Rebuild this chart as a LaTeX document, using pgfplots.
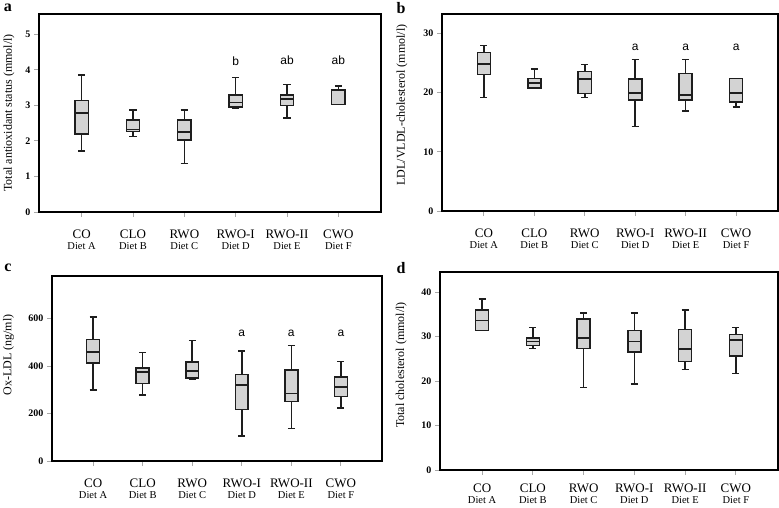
\documentclass[border=0pt]{standalone}
\usepackage{fontspec}
\setmainfont{Liberation Serif}
\newfontfamily\sansf{Liberation Sans}
\usepackage{pgfplots}
\pgfplotsset{compat=1.18}
\definecolor{boxfill}{HTML}{D3D3D3}
\definecolor{boxedge}{HTML}{1E1E1E}
\definecolor{tickgray}{HTML}{A8A8A8}

\pgfplotsset{
  panel/.style={
    scale only axis,
    xmin=-0.83, xmax=5.83,
    ymin=0,
    xtick={0,...,5},
    xticklabels={
      {CO\\[-2pt]{\fontsize{10.5}{10}\selectfont Diet A}},
      {CLO\\[-2pt]{\fontsize{10.5}{10}\selectfont Diet B}},
      {RWO\\[-2pt]{\fontsize{10.5}{10}\selectfont Diet C}},
      {RWO-I\\[-2pt]{\fontsize{10.5}{10}\selectfont Diet D}},
      {RWO-II\\[-2pt]{\fontsize{10.5}{10}\selectfont Diet E}},
      {CWO\\[-2pt]{\fontsize{10.5}{10}\selectfont Diet F}}},
    tick align=outside,
    xtick pos=bottom, ytick pos=left,
    major tick length=5pt,
    major tick style={tickgray, line width=0.9pt},
    axis line style={black, line width=1.3pt},
    yticklabel style={font=\bfseries\fontsize{10}{10}\selectfont},
    /pgf/number format/assume math mode=true,
    xticklabel style={align=center, font=\fontsize{13}{13}\selectfont, yshift=-9pt},
    ylabel style={font=\fontsize{12}{12}\selectfont, anchor=center},
    clip=false,
  },
  bxline/.style={draw=boxedge, line width=1.5pt, solid},
}
\tikzset{annot/.style={font=\sansf\fontsize{12}{12}\selectfont, text=black}}

% #1 position, #2 lower whisker, #3 lower quartile, #4 median, #5 upper quartile, #6 upper whisker
\newcommand\bx[6]{%
  \pgfmathsetmacro\bxL{#1-0.13}%
  \pgfmathsetmacro\bxR{#1+0.13}%
  \pgfmathsetmacro\bxCL{#1-0.07}%
  \pgfmathsetmacro\bxCR{#1+0.07}%
  \addplot[bxline] coordinates {(#1,#2) (#1,#3)};
  \addplot[bxline] coordinates {(#1,#5) (#1,#6)};
  \addplot[bxline] coordinates {(\bxCL,#2) (\bxCR,#2)};
  \addplot[bxline] coordinates {(\bxCL,#6) (\bxCR,#6)};
  \addplot[bxline, fill=boxfill] coordinates {(\bxL,#3) (\bxR,#3) (\bxR,#5) (\bxL,#5)} -- cycle;
  \addplot[bxline, line width=1.8pt] coordinates {(\bxL,#4) (\bxR,#4)};
}

\begin{document}
\begin{tikzpicture}
\path[use as bounding box] (0,0) rectangle (779pt,507pt);

% ---------------- panel a ----------------
\begin{axis}[panel, at={(39pt,295pt)}, anchor=south west,
  width=342pt, height=198pt, ymax=5.57, ytick={0,1,2,3,4,5},
  ylabel={Total antioxidant status (mmol/l)},
  ylabel style={at={(axis description cs:-0.088,0.5)}}]
\bx{0}{1.72}{2.20}{2.78}{3.14}{3.86}
\bx{1}{2.12}{2.27}{2.32}{2.59}{2.87}
\bx{2}{1.36}{2.03}{2.24}{2.59}{2.87}
\bx{3}{2.91}{2.95}{3.08}{3.29}{3.79}
\bx{4}{2.64}{3.00}{3.17}{3.29}{3.58}
\bx{5}{3.03}{3.03}{3.42}{3.44}{3.55}
\node[annot] at (axis cs:3,4.23) {b};
\node[annot] at (axis cs:4,4.26) {ab};
\node[annot] at (axis cs:5,4.26) {ab};
\end{axis}

% ---------------- panel b ----------------
\begin{axis}[panel, at={(442pt,296pt)}, anchor=south west,
  width=336pt, height=197pt, ymax=33.3, ytick={0,10,20,30},
  ylabel={LDL/VLDL-cholesterol (mmol/l)},
  ylabel style={at={(axis description cs:-0.119,0.538)}}]
\bx{0}{19.2}{23.1}{24.9}{26.8}{28.0}
\bx{1}{20.8}{20.8}{21.7}{22.4}{24.0}
\bx{2}{19.2}{19.9}{22.3}{23.6}{24.8}
\bx{3}{14.3}{18.8}{20.0}{22.3}{25.6}
\bx{4}{16.9}{18.8}{19.6}{23.2}{25.6}
\bx{5}{17.6}{18.4}{20.0}{22.4}{22.4}
\node[annot] at (axis cs:3,27.6) {a};
\node[annot] at (axis cs:4,27.6) {a};
\node[annot] at (axis cs:5,27.6) {a};
\end{axis}

% ---------------- panel c ----------------
\begin{axis}[panel, at={(52pt,46pt)}, anchor=south west,
  width=330pt, height=185pt, ymax=780, ytick={0,200,400,600},
  ylabel={Ox-LDL (ng/ml)},
  ylabel style={at={(axis description cs:-0.132,0.573)}}]
\bx{0}{300}{414}{458}{512}{607}
\bx{1}{278}{327}{376}{393}{457}
\bx{2}{343}{350}{380}{418}{509}
\bx{3}{105}{217}{321}{364}{464}
\bx{4}{137}{251}{285}{384}{488}
\bx{5}{223}{271}{311}{355}{420}
\node[annot] at (axis cs:3,537) {a};
\node[annot] at (axis cs:4,537) {a};
\node[annot] at (axis cs:5,537) {a};
\end{axis}

% ---------------- panel d ----------------
\begin{axis}[panel, at={(440pt,37pt)}, anchor=south west,
  width=338pt, height=198pt, ymax=44.5, ytick={0,10,20,30,40},
  xticklabel style={yshift=4pt},
  ylabel={Total cholesterol (mmol/l)},
  ylabel style={at={(axis description cs:-0.115,0.53)}}]
\bx{0}{31.3}{31.3}{33.6}{36.0}{38.4}
\bx{1}{27.3}{28.0}{28.9}{29.7}{32.0}
\bx{2}{18.5}{27.3}{29.7}{33.9}{35.3}
\bx{3}{19.3}{26.5}{28.9}{31.3}{35.3}
\bx{4}{22.6}{24.4}{27.2}{31.6}{36.0}
\bx{5}{21.7}{25.6}{29.3}{30.4}{32.0}
\end{axis}

% panel letters
\node[font=\bfseries\fontsize{16}{16}\selectfont] at (8pt,499pt) {a};
\node[font=\bfseries\fontsize{16}{16}\selectfont] at (401pt,499pt) {b};
\node[font=\bfseries\fontsize{16}{16}\selectfont] at (8pt,239pt) {c};
\node[font=\bfseries\fontsize{16}{16}\selectfont] at (401pt,239pt) {d};
\end{tikzpicture}
\end{document}
